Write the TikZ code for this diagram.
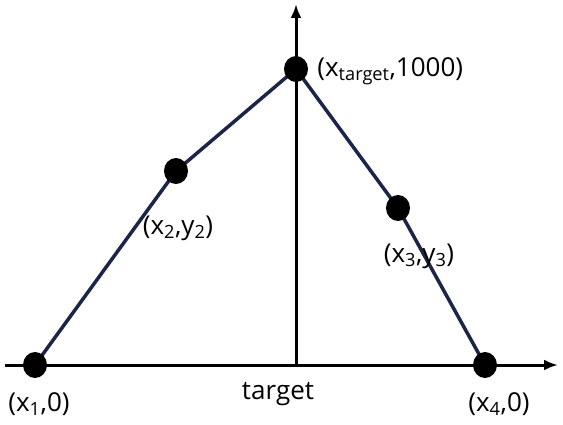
\documentclass[tikz,border=0pt]{standalone}
\usepackage{fontspec}
\setmainfont{Open Sans}
\usetikzlibrary{arrows.meta,calc,positioning,shapes.geometric}
\definecolor{darknavy}{RGB}{28,36,72}

\begin{document}
\begin{tikzpicture}[x=1pt,y=-1pt,
    dot/.style={ellipse,fill=black,inner sep=0pt,minimum width=24pt,minimum height=26pt},
    lbl/.style={font=\fontsize{26}{30}\selectfont,inner sep=1pt}]
        \useasboundingbox (0,0) rectangle (563,425);
        % Define points
        \coordinate (O) at (296,365);
        \coordinate (xend) at (558,365);
        \coordinate (xstart) at (5,365);
        \coordinate (yend) at (296,4);
        \coordinate (P1) at (35,365);
        \coordinate (P2) at (176,171);
        \coordinate (Pt) at (296,69);
        \coordinate (P3) at (398,208);
        \coordinate (P4) at (485,365);
        %Axis
        \draw[-{Latex[length=14pt,width=11pt]},line width=3pt] (xstart) -- (xend);
        \draw[-{Latex[length=14pt,width=11pt]},line width=3pt] (O) -- (yend);
        %Draw the curve
        \draw[darknavy,line width=3.5pt,line join=round] (P1) -- (P2) -- (Pt) -- (P3) -- (P4);
        % Mark points
        \node[dot] (d1) at (P1) {};
        \node[dot] (d2) at (P2) {};
        \node[dot] (dt) at (Pt) {};
        \node[dot] (d3) at (P3) {};
        \node[dot] (d4) at (P4) {};
        % Labels
        \node[lbl,right=8pt of dt,yshift=-2pt] {(x\textsubscript{target},1000)};
        \node[lbl] at (178,228) {(x\textsubscript{2},y\textsubscript{2})};
        \node[lbl] at (419,256) {(x\textsubscript{3},y\textsubscript{3})};
        \node[lbl] at (39,404) {(x\textsubscript{1},0)};
        \node[lbl] at (278,394) {target};
        \node[lbl] at (499,404) {(x\textsubscript{4},0)};
      \end{tikzpicture}
\end{document}
